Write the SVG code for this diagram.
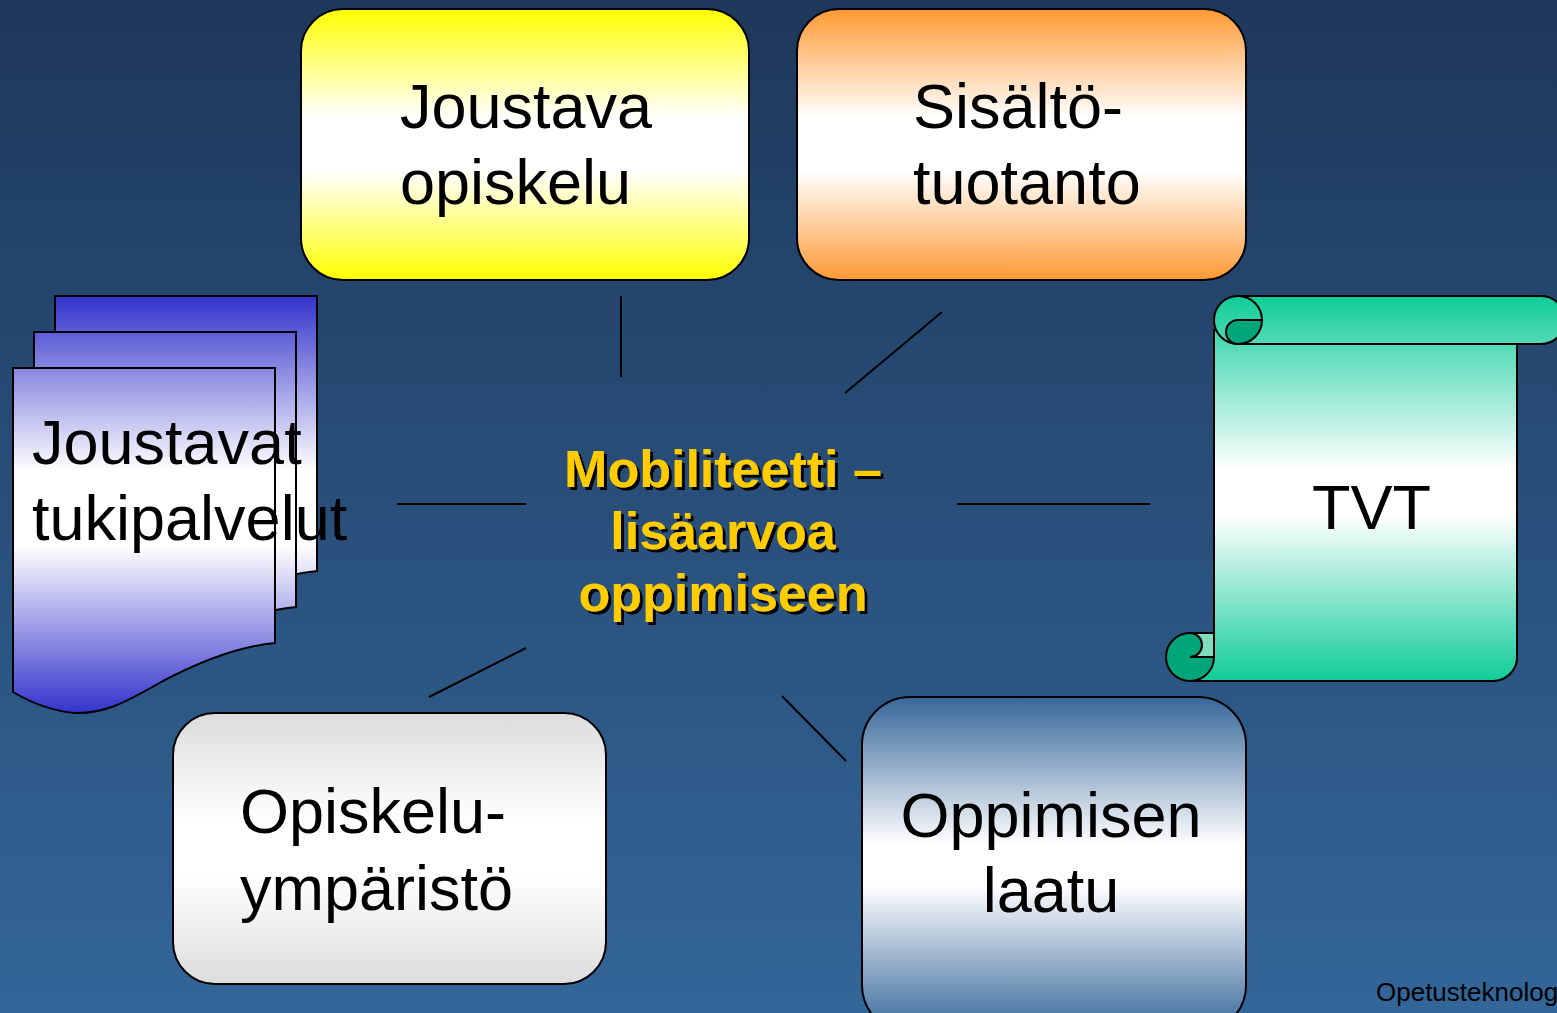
<svg xmlns="http://www.w3.org/2000/svg" width="1557" height="1013" viewBox="0 0 1557 1013">
<style>
.lbl{font-family:"Liberation Sans",Arial,sans-serif;font-size:63px;fill:#000}
.ctr{font-family:"Liberation Sans",Arial,sans-serif;font-size:52px;font-weight:bold;fill:#ffcc00;text-anchor:middle}
.box{stroke:#000;stroke-width:2}
.conn line{stroke:#000;stroke-width:2}
</style>
<defs>
<linearGradient id="bg" x1="0" y1="0" x2="0" y2="1"><stop offset="0" stop-color="#1e385b"/><stop offset="1" stop-color="#336699"/></linearGradient>
<linearGradient id="gYel" x1="0" y1="0" x2="0" y2="1"><stop offset="0" stop-color="#ffff00"/><stop offset="0.4" stop-color="#ffffff"/><stop offset="0.6" stop-color="#ffffff"/><stop offset="1" stop-color="#ffff00"/></linearGradient>
<linearGradient id="gOra" x1="0" y1="0" x2="0" y2="1"><stop offset="0" stop-color="#ff9933"/><stop offset="0.4" stop-color="#ffffff"/><stop offset="0.6" stop-color="#ffffff"/><stop offset="1" stop-color="#ff9933"/></linearGradient>
<linearGradient id="gGry" x1="0" y1="0" x2="0" y2="1"><stop offset="0" stop-color="#dcdcdc"/><stop offset="0.4" stop-color="#ffffff"/><stop offset="0.6" stop-color="#ffffff"/><stop offset="1" stop-color="#dcdcdc"/></linearGradient>
<linearGradient id="gBlu" x1="0" y1="0" x2="0" y2="1"><stop offset="0" stop-color="#366799"/><stop offset="0.44" stop-color="#ffffff"/><stop offset="0.56" stop-color="#ffffff"/><stop offset="1" stop-color="#366799"/></linearGradient>
<linearGradient id="gDoc" gradientUnits="userSpaceOnUse" x1="0" y1="296" x2="0" y2="713"><stop offset="0" stop-color="#3333cc"/><stop offset="0.42" stop-color="#ffffff"/><stop offset="0.6" stop-color="#ffffff"/><stop offset="1" stop-color="#3333cc"/></linearGradient>
<linearGradient id="gScr" gradientUnits="userSpaceOnUse" x1="0" y1="296" x2="0" y2="681"><stop offset="0" stop-color="#10cc99"/><stop offset="0.45" stop-color="#ffffff"/><stop offset="0.57" stop-color="#ffffff"/><stop offset="1" stop-color="#10cc99"/></linearGradient>
<filter id="shadow" x="-10%" y="-10%" width="120%" height="130%"><feDropShadow dx="3" dy="3" stdDeviation="0" flood-color="#000" flood-opacity="1"/></filter>
</defs>
<rect x="0" y="0" width="1557" height="1013" fill="url(#bg)"/>

<g class="conn" id="connectors">
<line x1="621" y1="296" x2="621" y2="377"/>
<line x1="942" y1="312" x2="845" y2="393"/>
<line x1="397" y1="504" x2="526" y2="504"/>
<line x1="957" y1="504" x2="1150" y2="504"/>
<line x1="526" y1="648" x2="429" y2="697"/>
<line x1="782" y1="696" x2="846" y2="761"/>
</g>

<g id="joustava-opiskelu">
<rect class="box" x="301" y="9" width="448" height="271" rx="42" fill="url(#gYel)"/>
<text class="lbl" x="400" y="128">Joustava</text>
<text class="lbl" x="400" y="204">opiskelu</text>
</g>

<g id="sisaltotuotanto">
<rect class="box" x="797" y="9" width="449" height="271" rx="42" fill="url(#gOra)"/>
<text class="lbl" x="913" y="128">Sisältö-</text>
<text class="lbl" x="913" y="204">tuotanto</text>
</g>

<g id="joustavat-tukipalvelut">
<path class="box" fill="url(#gDoc)" d="M55,296 H317 V571 C285,574 245,588 205,609 C165,632 145,642 117,641 Q85,638 55,620 Z"/>
<path class="box" fill="url(#gDoc)" d="M34,332 H296 V607 C264,610 224,624 184,645 C144,668 124,678 96,677 Q64,674 34,656 Z"/>
<path class="box" fill="url(#gDoc)" d="M13,368 H275 V643 C243,646 203,660 163,681 C123,704 103,714 75,713 Q43,710 13,692 Z"/>
<text class="lbl" x="32" y="464">Joustavat</text>
<text class="lbl" x="32" y="540">tukipalvelut</text>
</g>

<g id="tvt">
<path class="box" fill="url(#gScr)" d="M1214,330 H1517 V657 A24,24 0 0 1 1493,681 H1190 V657 H1214 Z"/>
<path class="box" fill="url(#gScr)" d="M1238,296 H1541 A24,24 0 0 1 1541,344 H1238 A24,24 0 0 1 1238,296 Z"/>
<path class="box" fill="none" d="M1238,296 A24,24 0 0 1 1262,320"/>
<path class="box" fill="#00a67a" d="M1238,320 H1262 A24,24 0 0 1 1238,344 A12,12 0 0 1 1238,320 Z"/>
<path class="box" fill="#00a67a" d="M1190,633 A12,12 0 0 1 1190,657 H1214 A24,24 0 0 1 1190,681 A24,24 0 0 1 1166,657 A24,24 0 0 1 1190,633 Z"/>
<path class="box" fill="#7fdcbc" d="M1190,633 H1214 V657 H1190 A12,12 0 0 0 1190,633 Z"/>
<text class="lbl" x="1312" y="529">TVT</text>
</g>

<g id="opiskeluymparisto">
<rect class="box" x="173" y="713" width="433" height="271" rx="42" fill="url(#gGry)"/>
<text class="lbl" x="240" y="833">Opiskelu-</text>
<text class="lbl" x="240" y="910">ympäristö</text>
</g>

<g id="oppimisen-laatu">
<rect class="box" x="862" y="697" width="384" height="336" rx="48" fill="url(#gBlu)"/>
<text class="lbl" x="1051" y="837" text-anchor="middle">Oppimisen</text>
<text class="lbl" x="1051" y="912" text-anchor="middle">laatu</text>
</g>

<g id="mobiliteetti" filter="url(#shadow)">
<text class="ctr" x="723" y="487">Mobiliteetti –</text>
<text class="ctr" x="723" y="549">lisäarvoa</text>
<text class="ctr" x="723" y="611">oppimiseen</text>
</g>

<text x="1376" y="1001" font-family="Liberation Sans, Arial, sans-serif" font-size="26" fill="#000">Opetusteknolog</text>
</svg>
